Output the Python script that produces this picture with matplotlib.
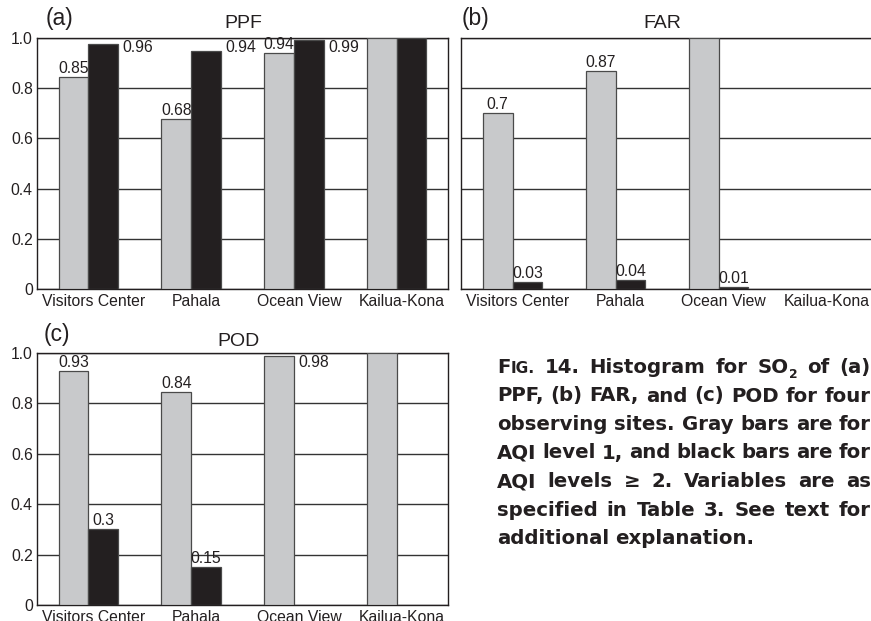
import matplotlib
matplotlib.use("Agg")
import matplotlib.pyplot as plt
import numpy as np

plt.rcParams['font.family'] = ['Liberation Sans', 'DejaVu Sans']

sites = ["Visitors Center", "Pahala", "Ocean View", "Kailua-Kona"]

# (a) PPF
ppf_gray = [0.846, 0.677, 0.939, 1.0]
ppf_black = [0.976, 0.948, 0.992, 1.0]
ppf_gray_lab = ["0.85", "0.68", "0.94", ""]
ppf_black_lab = ["0.96", "0.94", "0.99", ""]

# (b) FAR
far_gray = [0.70, 0.87, 1.0, None]
far_black = [0.027, 0.034, 0.007, None]
far_gray_lab = ["0.7", "0.87", "", ""]
far_black_lab = ["0.03", "0.04", "0.01", ""]

# (c) POD
pod_gray = [0.93, 0.847, 0.989, 1.0]
pod_black = [0.302, 0.151, None, None]
pod_gray_lab = ["0.93", "0.84", "0.98", ""]
pod_black_lab = ["0.3", "0.15", "", ""]

yticks = [0, 0.2, 0.4, 0.6, 0.8, 1.0]
ytick_labels = ["0", "0.2", "0.4", "0.6", "0.8", "1.0"]

caption_lines = [
    "FIG. 14. Histogram for SO2 of (a)",
    "PPF, (b) FAR, and (c) POD for four",
    "observing sites. Gray bars are for",
    "AQI level 1, and black bars are for",
    "AQI levels \u2265 2. Variables are as",
    "specified in Table 3. See text for",
    "additional explanation.",
]

W, H = 871, 621
GRAY = '#c8c9cb'
BLACK = '#231f20'
EDGE = '#4a4a4a'
BW = 0.29
FS = 11.3

fig = plt.figure(figsize=(W / 100, H / 100), dpi=100)

def px_rect(x0, y0, x1, y1):
    return [x0 / W, 1 - y1 / H, (x1 - x0) / W, (y1 - y0) / H]

panels = [
    dict(rect=px_rect(37, 38, 448, 289), letter="(a)", lpos=(46, 18), title="PPF",
         tpos=(243, 23), gray=ppf_gray, black=ppf_black,
         glab=ppf_gray_lab, blab=ppf_black_lab,
         gmode=["top", "top", "top", ""], bmode=["right", "right", "right", ""]),
    dict(rect=px_rect(461, 38, 873, 289), letter="(b)", lpos=(462, 18), title="FAR",
         tpos=(662, 23), gray=far_gray, black=far_black,
         glab=far_gray_lab, blab=far_black_lab,
         gmode=["top", "top", "", ""], bmode=["top", "top", "top", ""]),
    dict(rect=px_rect(37, 353, 448, 605), letter="(c)", lpos=(44, 335), title="POD",
         tpos=(238, 342), gray=pod_gray, black=pod_black,
         glab=pod_gray_lab, blab=pod_black_lab,
         gmode=["top", "top", "right", ""], bmode=["top", "top", "", ""]),
]

x = np.arange(len(sites))

for p in panels:
    ax = fig.add_axes(p["rect"])
    for series, color, off, labs, modes in [
            (p["gray"], GRAY, -BW / 2, p["glab"], p["gmode"]),
            (p["black"], BLACK, BW / 2, p["blab"], p["bmode"])]:
        idx = [i for i, v in enumerate(series) if v is not None]
        vals = [series[i] for i in idx]
        ax.bar(x[idx] + off, vals, width=BW, color=color, edgecolor=EDGE,
               linewidth=0.9, zorder=3)
        for i in idx:
            if not labs[i]:
                continue
            if modes[i] == "top":
                ax.text(x[i] + off, series[i] + 0.004, labs[i], ha='center',
                        va='bottom', fontsize=FS, color=BLACK, zorder=5)
            elif modes[i] == "right":
                ax.text(x[i] + off + BW / 2 + 0.045, 0.963, labs[i], ha='left',
                        va='center', fontsize=FS, color=BLACK, zorder=5)
    ax.set_xlim(-0.5, 3.5)
    ax.set_ylim(0, 1.0)
    ax.set_yticks(yticks)
    ax.set_yticklabels(ytick_labels if p["letter"] != "(b)" else [])
    ax.set_xticks(x + 0.05)
    ax.set_xticklabels(sites)
    ax.tick_params(length=0, labelsize=FS, colors=BLACK)
    ax.tick_params(axis='x', pad=3.5)
    ax.tick_params(axis='y', pad=3)
    ax.yaxis.grid(True, color='#333333', linewidth=1.0, zorder=0)
    ax.set_axisbelow(True)
    for s in ax.spines.values():
        s.set_color(BLACK)
        s.set_linewidth(1.0)
    fig.text(p["lpos"][0] / W, 1 - p["lpos"][1] / H, p["letter"], fontsize=16.5,
             ha='left', va='center', color=BLACK)
    fig.text(p["tpos"][0] / W, 1 - p["tpos"][1] / H, p["title"], fontsize=14,
             ha='center', va='center', color=BLACK)

# caption, justified like the journal text block
renderer = fig.canvas.get_renderer()
CAP_FS = 14.2
cap_kw = dict(family=['DejaVu Sans'], fontweight='bold', color=BLACK)

def word_pieces(w):
    if w == "FIG.":
        return [("F", 1.0, 0), ("IG.", 0.78, 0)]
    if w == "SO2":
        return [("SO", 1.0, 0), ("2", 0.62, -5)]
    return [(w, 1.0, 0)]

def draw_word(xp, yp, w):
    for txt, sc, dy in word_pieces(w):
        t = fig.text(xp / W, 1 - (yp - dy) / H, txt, fontsize=CAP_FS * sc,
                     ha='left', va='baseline', **cap_kw)
        xp += t.get_window_extent(renderer).width

def word_width(w):
    tot = 0
    for txt, sc, dy in word_pieces(w):
        t = fig.text(0, 0, txt, fontsize=CAP_FS * sc, **cap_kw)
        tot += t.get_window_extent(renderer).width
        t.remove()
    return tot

x0, x1 = 497, 871
for k, line in enumerate(caption_lines):
    words = line.split(" ")
    yb = 373 + 28.5 * k
    widths = [word_width(w) for w in words]
    if k < len(caption_lines) - 1:
        gap = (x1 - x0 - sum(widths)) / (len(words) - 1)
    else:
        gap = 6.0
    xp = x0
    for w, wd in zip(words, widths):
        draw_word(xp, yb, w)
        xp += wd + gap

fig.savefig("out.png", dpi=100, facecolor='w')
